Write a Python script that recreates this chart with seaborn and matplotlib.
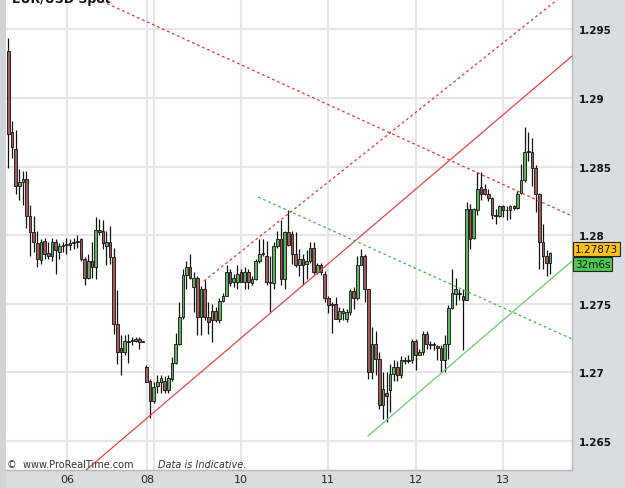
import matplotlib
matplotlib.use("Agg")
import matplotlib.pyplot as plt
import numpy as np
import pandas as pd
import seaborn as sns

# ---------------- data ----------------
opens = [1.2934, 1.2875, 1.2863, 1.2836, 1.2839, 1.2841, 1.2814, 1.2802, 1.2794, 1.2782,
         1.2796, 1.2787, 1.2785, 1.2795, 1.2788, 1.2792, 1.2793, 1.2793, 1.2794, 1.2795,
         1.2797, 1.2783, 1.2769, 1.2781, 1.2777, 1.2804, 1.2803, 1.2792, 1.2795, 1.2784,
         1.2735, 1.2718, 1.2715, 1.2722, 1.2723, 1.2723, 1.2724, 1.2723, 1.2704, 1.2694,
         1.2679, 1.2690, 1.2693, 1.2694, 1.2687, 1.2695, 1.2707, 1.2721, 1.2740, 1.2771,
         1.2777, 1.2762, 1.2769, 1.2740, 1.2761, 1.2740, 1.2738, 1.2745, 1.2738, 1.2752,
         1.2756, 1.2773, 1.2766, 1.2766, 1.2773, 1.2766, 1.2773, 1.2765, 1.2768, 1.2781,
         1.2786, 1.2785, 1.2765, 1.2765, 1.2792, 1.2797, 1.2768, 1.2802, 1.2801, 1.2786,
         1.2778, 1.2783, 1.2779, 1.2781, 1.2791, 1.2773, 1.2778, 1.2772, 1.2754, 1.2750,
         1.2750, 1.2739, 1.2743, 1.2739, 1.2744, 1.2759, 1.2754, 1.2778, 1.2785, 1.2761,
         1.2700, 1.2721, 1.2710, 1.2676, 1.2685, 1.2687, 1.2699, 1.2704, 1.2698, 1.2709,
         1.2708, 1.2709, 1.2723, 1.2713, 1.2715, 1.2728, 1.2721, 1.2720, 1.2719, 1.2718,
         1.2709, 1.2721, 1.2747, 1.2757, 1.2758, 1.2756, 1.2753, 1.2819, 1.2798, 1.2818,
         1.2835, 1.2834, 1.2830, 1.2827, 1.2815, 1.2814, 1.2821, 1.2818, 1.2818, 1.2821,
         1.2820, 1.2831, 1.2840, 1.2861, 1.2861, 1.2849, 1.2830, 1.2795, 1.2785, 1.2780]
highs = [1.2944, 1.2883, 1.2877, 1.2848, 1.2847, 1.2847, 1.2822, 1.2814, 1.2803, 1.2797,
         1.2798, 1.2795, 1.2798, 1.2797, 1.2794, 1.2795, 1.2798, 1.2797, 1.2798, 1.2800,
         1.2798, 1.2784, 1.2786, 1.2795, 1.2813, 1.2812, 1.2811, 1.2803, 1.2807, 1.2791,
         1.2760, 1.2727, 1.2727, 1.2728, 1.2726, 1.2726, 1.2726, 1.2723, 1.2705, 1.2695,
         1.2693, 1.2698, 1.2698, 1.2697, 1.2698, 1.2711, 1.2729, 1.2751, 1.2775, 1.2781,
         1.2786, 1.2773, 1.2770, 1.2763, 1.2767, 1.2751, 1.2750, 1.2748, 1.2754, 1.2758,
         1.2778, 1.2775, 1.2772, 1.2778, 1.2775, 1.2777, 1.2775, 1.2770, 1.2783, 1.2797,
         1.2797, 1.2796, 1.2785, 1.2795, 1.2803, 1.2811, 1.2803, 1.2818, 1.2803, 1.2802,
         1.2790, 1.2786, 1.2789, 1.2795, 1.2795, 1.2780, 1.2780, 1.2774, 1.2756, 1.2751,
         1.2755, 1.2748, 1.2747, 1.2746, 1.2761, 1.2762, 1.2785, 1.2790, 1.2786, 1.2761,
         1.2733, 1.2730, 1.2715, 1.2700, 1.2700, 1.2706, 1.2709, 1.2708, 1.2712, 1.2711,
         1.2713, 1.2724, 1.2724, 1.2717, 1.2730, 1.2730, 1.2723, 1.2722, 1.2720, 1.2720,
         1.2727, 1.2749, 1.2775, 1.2769, 1.2761, 1.2761, 1.2824, 1.2823, 1.2820, 1.2846,
         1.2846, 1.2837, 1.2834, 1.2828, 1.2819, 1.2822, 1.2822, 1.2821, 1.2822, 1.2822,
         1.2832, 1.2852, 1.2879, 1.2875, 1.2871, 1.2851, 1.2831, 1.2808, 1.2789, 1.2788]
lows = [1.2849, 1.2856, 1.2830, 1.2826, 1.2822, 1.2805, 1.2785, 1.2788, 1.2777, 1.2779,
        1.2783, 1.2783, 1.2781, 1.2772, 1.2783, 1.2788, 1.2786, 1.2789, 1.2790, 1.2791,
        1.2781, 1.2764, 1.2768, 1.2769, 1.2768, 1.2800, 1.2790, 1.2778, 1.2779, 1.2728,
        1.2706, 1.2698, 1.2713, 1.2707, 1.2720, 1.2722, 1.2717, 1.2722, 1.2693, 1.2667,
        1.2678, 1.2685, 1.2685, 1.2685, 1.2685, 1.2694, 1.2706, 1.2720, 1.2739, 1.2761,
        1.2768, 1.2744, 1.2727, 1.2727, 1.2738, 1.2728, 1.2722, 1.2737, 1.2736, 1.2751,
        1.2756, 1.2763, 1.2762, 1.2761, 1.2766, 1.2761, 1.2761, 1.2764, 1.2767, 1.2780,
        1.2785, 1.2764, 1.2744, 1.2761, 1.2791, 1.2764, 1.2761, 1.2792, 1.2779, 1.2777,
        1.2770, 1.2764, 1.2768, 1.2780, 1.2772, 1.2772, 1.2771, 1.2751, 1.2743, 1.2729,
        1.2739, 1.2737, 1.2738, 1.2737, 1.2742, 1.2746, 1.2753, 1.2778, 1.2751, 1.2695,
        1.2695, 1.2698, 1.2673, 1.2666, 1.2664, 1.2671, 1.2694, 1.2694, 1.2696, 1.2706,
        1.2707, 1.2707, 1.2702, 1.2713, 1.2713, 1.2717, 1.2717, 1.2716, 1.2709, 1.2700,
        1.2700, 1.2710, 1.2746, 1.2749, 1.2753, 1.2716, 1.2753, 1.2790, 1.2797, 1.2815,
        1.2826, 1.2829, 1.2825, 1.2812, 1.2808, 1.2813, 1.2813, 1.2811, 1.2812, 1.2818,
        1.2819, 1.2830, 1.2839, 1.2854, 1.2836, 1.2817, 1.2775, 1.2775, 1.2770, 1.2772]
closes = [1.2874, 1.2864, 1.2836, 1.2839, 1.2841, 1.2814, 1.2802, 1.2795, 1.2783, 1.2795,
          1.2786, 1.2785, 1.2795, 1.2789, 1.2792, 1.2793, 1.2793, 1.2794, 1.2795, 1.2796,
          1.2783, 1.2769, 1.2781, 1.2777, 1.2804, 1.2802, 1.2794, 1.2795, 1.2784, 1.2735,
          1.2715, 1.2715, 1.2723, 1.2723, 1.2723, 1.2724, 1.2722, 1.2722, 1.2693, 1.2679,
          1.2689, 1.2693, 1.2696, 1.2687, 1.2696, 1.2707, 1.2721, 1.2740, 1.2771, 1.2777,
          1.2769, 1.2769, 1.2740, 1.2761, 1.2740, 1.2737, 1.2745, 1.2738, 1.2752, 1.2756,
          1.2773, 1.2765, 1.2769, 1.2772, 1.2766, 1.2773, 1.2766, 1.2768, 1.2781, 1.2786,
          1.2787, 1.2766, 1.2766, 1.2792, 1.2797, 1.2768, 1.2802, 1.2793, 1.2786, 1.2778,
          1.2783, 1.2778, 1.2781, 1.2791, 1.2773, 1.2778, 1.2773, 1.2754, 1.2749, 1.2749,
          1.2739, 1.2745, 1.2745, 1.2744, 1.2759, 1.2754, 1.2778, 1.2785, 1.2761, 1.2700,
          1.2721, 1.2710, 1.2676, 1.2688, 1.2683, 1.2699, 1.2704, 1.2698, 1.2709, 1.2708,
          1.2709, 1.2723, 1.2713, 1.2715, 1.2728, 1.2721, 1.2720, 1.2720, 1.2718, 1.2709,
          1.2721, 1.2747, 1.2758, 1.2761, 1.2757, 1.2753, 1.2819, 1.2797, 1.2819, 1.2834,
          1.2830, 1.2830, 1.2827, 1.2815, 1.2814, 1.2821, 1.2818, 1.2818, 1.2821, 1.2820,
          1.2830, 1.2840, 1.2861, 1.2861, 1.2849, 1.2830, 1.2795, 1.2785, 1.2780, 1.27873]

day_labels = ["06", "08", "10", "11", "12", "13"]
day_index = [16.1, 38.2, 63.9, 87.8, 112.1, 136.1]   # day boundaries (bar index)
extra_day_index = [40.1]
price_ticks = [1.265, 1.27, 1.275, 1.28, 1.285, 1.29, 1.295]
price_labels = ["1.265", "1.27", "1.275", "1.28", "1.285", "1.29", "1.295"]

# trend lines: (bar index pair, price pair)
red_dash_top_x = [24.4, 155.0]
red_dash_top_y = [1.29722, 1.28140]
red_solid_x = [21.4, 155.0]
red_solid_y = [1.26288, 1.29306]
red_dash_chan_x = [53.8, 151.2]
red_dash_chan_y = [1.27666, 1.29722]
green_dash_x = [68.7, 155.0]
green_dash_y = [1.28278, 1.27243]
green_solid_x = [98.9, 155.0]
green_solid_y = [1.26536, 1.27812]

last_price = "1.27873"
timer_text = "32m6s"

# ---------------- figure ----------------
sns.set_style("white")
plt.rcParams["font.family"] = ["DejaVu Sans"]

W, H = 625, 489
fig = plt.figure(figsize=(W / 100, H / 100), dpi=100)
bg = "#d8dde2"
fig.patch.set_facecolor(bg)

ax_l, ax_r, ax_t, ax_b = 5.6, 572, 0, 471
ax = fig.add_axes([ax_l / W, 1 - ax_b / H, (ax_r - ax_l) / W, (ax_b - ax_t) / H])
ax.set_facecolor("white")
ax.set_xlim(-0.74, 155.0)
ax.set_ylim(1.26288, 1.29722)

# grid
grid_c = "#e6e6e6"
for p in price_ticks:
    ax.axhline(p, color=grid_c, lw=1.5, zorder=0)
for d in day_index + extra_day_index:
    ax.axvline(d, color=grid_c, lw=1.5, zorder=0)

# candles
df = pd.DataFrame({"o": opens, "h": highs, "l": lows, "c": closes})
df["i"] = np.arange(len(df))
up = df["c"] >= df["o"]
ax.vlines(df["i"], df["l"], df["h"], color="#111111", lw=0.9, zorder=2)
bottoms = np.minimum(df["o"], df["c"])
heights = np.maximum(np.abs(df["c"] - df["o"]), 0.00004)
colors = np.where(up, "#5fb25f", "#a65858")
ax.bar(df["i"], heights, bottom=bottoms, width=0.72, color=colors,
       edgecolor="#111111", linewidth=0.6, zorder=3)

# trend lines via seaborn
def tl(xs, ys, color, dashed, lw=0.9):
    d = pd.DataFrame({"x": xs, "y": ys})
    line = sns.lineplot(data=d, x="x", y="y", ax=ax, color=color, lw=lw,
                        estimator=None, sort=False, zorder=4)
    if dashed:
        line.lines[-1].set_dashes((2.2, 2.2))

tl(red_dash_top_x, red_dash_top_y, "#d83a3a", True)
tl(red_solid_x, red_solid_y, "#e04848", False)
tl(red_dash_chan_x, red_dash_chan_y, "#d83a3a", True)
tl(green_dash_x, green_dash_y, "#48b048", True)
tl(green_solid_x, green_solid_y, "#66cc66", False)
ax.set_xlabel("")
ax.set_ylabel("")

# axes styling
for s in ["top", "left"]:
    ax.spines[s].set_visible(False)
for s in ["right", "bottom"]:
    ax.spines[s].set_color("#b8b8b8")
    ax.spines[s].set_linewidth(1.0)
ax.yaxis.tick_right()
ax.set_yticks(price_ticks)
ax.set_yticklabels(price_labels, fontsize=7.5, fontweight="bold", color="#111111")
ax.set_xticks(day_index)
ax.set_xticklabels(day_labels, fontsize=8, color="#222222")
ax.tick_params(axis="y", length=0, pad=5)
ax.tick_params(axis="x", length=0, pad=3)

# left strip
fig.patches.append(plt.Rectangle((0, 0), ax_l / W, 1, transform=fig.transFigure,
                                 facecolor="#cfd4d9", edgecolor="none", zorder=-1))

# title (clipped at top, as in the reference)
fig.text(12 / W, 1 - 3.0 / H, "EUR/USD Spot", fontsize=9, fontweight="bold",
         va="baseline", ha="left", color="#111111")

# watermark
fig.text(7 / W, 1 - 468 / H, "©  www.ProRealTime.com", fontsize=7,
         color="#333333", va="baseline", ha="left")
fig.text(158 / W, 1 - 468 / H, "Data is Indicative.", fontsize=7, style="italic",
         color="#333333", va="baseline", ha="left")

# last price / timer boxes
fig.text(575 / W, 1 - 250 / H, last_price, fontsize=7.5, va="center", ha="left",
         color="#111111",
         bbox=dict(boxstyle="square,pad=0.18", facecolor="#ffc21a", edgecolor="#222222", lw=0.8))
fig.text(575 / W, 1 - 265 / H, timer_text, fontsize=7.5, va="center", ha="left",
         color="#111111",
         bbox=dict(boxstyle="square,pad=0.18", facecolor="#4cc84c", edgecolor="#222222", lw=0.8))

fig.savefig("out.png", dpi=100, facecolor=bg)
